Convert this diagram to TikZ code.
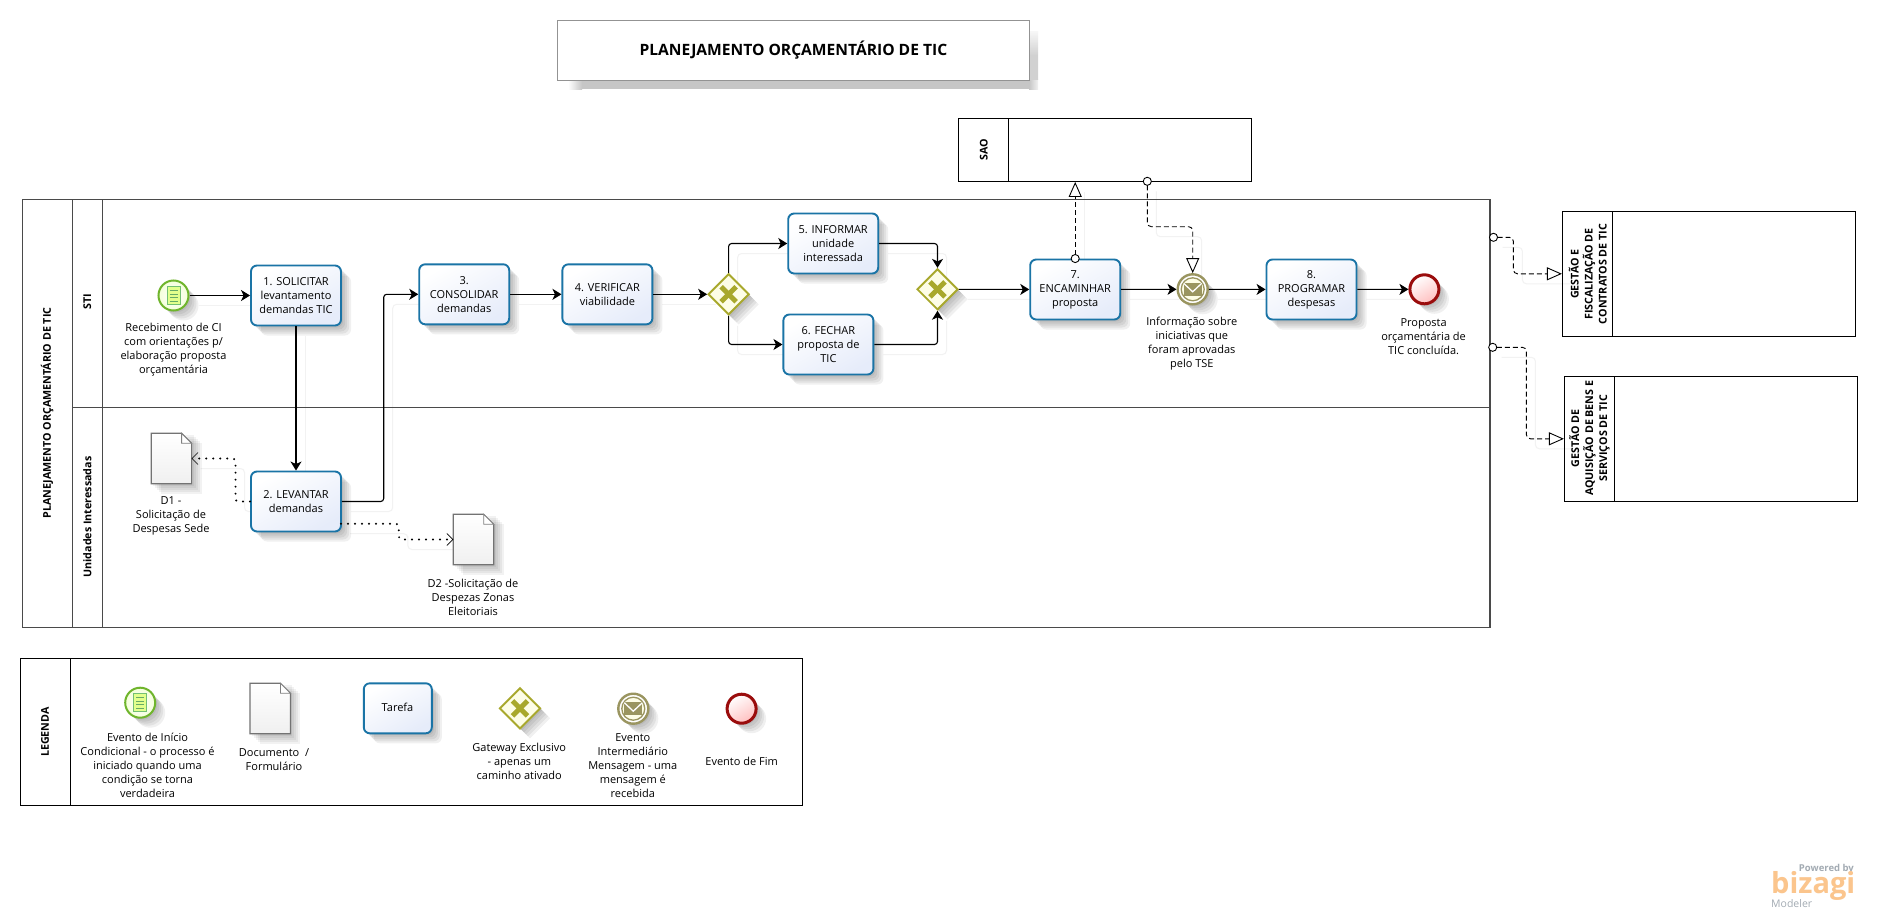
\documentclass[tikz,border=0pt]{standalone}
\usepackage{fontspec}
\setmainfont{Open Sans}
\usetikzlibrary{arrows.meta,shapes.geometric,calc}
\pgfdeclarelayer{ghost}
\pgfsetlayers{ghost,main}
\definecolor{taskblue}{HTML}{1A74A6}
\definecolor{taskfill}{HTML}{E6ECFA}
\definecolor{gwolive}{HTML}{A8A82C}
\definecolor{gwfill}{HTML}{FDFDE6}
\definecolor{msgolive}{HTML}{9A9560}
\definecolor{startgreen}{HTML}{6FB52C}
\definecolor{endred}{HTML}{9A0C0C}
\definecolor{poolgray}{HTML}{4A4A4A}
\definecolor{ghostgray}{HTML}{F2F2F2}
\definecolor{titleshadow}{HTML}{C6C6C6}
\definecolor{bizorange}{HTML}{FBC58D}
\definecolor{bizgray}{HTML}{A3ABB3}
\newcommand{\bodyfont}{\fontsize{11}{14}\selectfont}
\newcommand{\laneboldfont}{\fontsize{10.7}{14}\selectfont\bfseries}
\tikzset{
  softlayer/.style={preaction={draw=none,fill=black,fill opacity=.06,transform canvas={shift={(#1pt,-#1pt)}}}},
  softshadow/.style={softlayer=2,softlayer=4,softlayer=6,softlayer=8,softlayer=10},
  taskbox/.style={softshadow,rectangle,rounded corners=6pt,draw=taskblue,line width=1.9pt,
    top color=white,bottom color=taskfill,shading angle=30,minimum width=90pt,minimum height=60pt,
    inner sep=0pt,align=center,font=\bodyfont,text=black},
  gatewaynode/.style={softshadow,diamond,aspect=1,draw=gwolive,line width=1.9pt,fill=gwfill,minimum size=41pt,inner sep=0pt},
  gwcross/.style={draw=gwolive,line width=5pt},
  startnode/.style={softshadow,circle,draw=startgreen,line width=2pt,inner color=white,outer color=green!30!yellow!15,minimum size=30pt,inner sep=0pt},
  msgnode/.style={softshadow,circle,draw=msgolive,line width=2.4pt,fill=white,minimum size=30pt,inner sep=0pt},
  endnode/.style={softshadow,circle,draw=endred,line width=3pt,top color=white,bottom color=red!25,shading angle=30,minimum size=29pt,inner sep=0pt},
  poolbox/.style={rectangle,draw=black,line width=1.2pt,inner sep=0pt},
  mainpool/.style={rectangle,draw=poolgray,line width=1.2pt,inner sep=0pt},
  doclabel/.style={align=center,font=\bodyfont,inner sep=0pt,text=black},
  lanetext/.style={rotate=90,align=center,font=\laneboldfont,inner sep=0pt},
  invisdoc/.style={rectangle,minimum width=40pt,minimum height=50pt,inner sep=0pt},
  flowline/.style={draw=black,line width=1.1pt,rounded corners=3pt,-{Stealth[length=9pt,width=11pt,inset=2.5pt]}},
  assocline/.style={draw=black,line width=.9pt,rounded corners=4pt,dash pattern=on 5pt off 3pt,shorten <=-4.5pt,
    {Circle[open,fill=white,length=9pt,width=9pt]}-{Triangle[open,fill=white,length=15pt,width=13pt]}},
  dotline/.style={draw=black,line width=2.2pt,line cap=round,dash pattern=on 0pt off 7pt,rounded corners=3pt,
    -{Straight Barb[length=6pt,width=12pt,line width=.6pt]}},
  ghostline/.style={draw=ghostgray,line width=1pt,rounded corners=4pt,transform canvas={shift={(9pt,-10pt)}}},
}
% connector with its faint offset copy, on a layer under the nodes
\newcommand{\conn}[2]{%
  \begin{pgfonlayer}{ghost}\draw[ghostline] #2;\end{pgfonlayer}
  \draw[#1] #2;}
\newcommand{\gwx}[1]{%
  \draw[gwcross] ([shift={(-7.5,-7.5)}]#1.center) -- ([shift={(7.5,7.5)}]#1.center);
  \draw[gwcross] ([shift={(-7.5,7.5)}]#1.center) -- ([shift={(7.5,-7.5)}]#1.center);}
\newcommand{\msgicon}[1]{%
  \draw[msgolive,line width=1.3pt,fill=gwfill] (#1.center) circle (11.5pt);
  \fill[msgolive] ([shift={(-9,-6.5)}]#1.center) rectangle ([shift={(9,6.5)}]#1.center);
  \draw[white,line width=1.3pt] ([shift={(-9,-6)}]#1.center) -- ([shift={(0,2.5)}]#1.center) -- ([shift={(9,-6)}]#1.center);}
\newcommand{\starticon}[1]{%
  \draw[green!55!black!55,line width=1pt,fill=lime!45] ([shift={(-6.5,-9)}]#1.center) rectangle ([shift={(6.5,9)}]#1.center);
  \foreach \yy in {-5,-1.5,2,5.5}
    \draw[green!45!black!60,line width=1pt] ([shift={(-4,\yy)}]#1.center) -- ([shift={(4,\yy)}]#1.center);}
\newcommand{\docshape}[1]{%
  \foreach \ss in {2,4,6,8,10}
    \fill[black,fill opacity=.05,transform canvas={shift={(\ss pt,-\ss pt)}}] (#1.north west) rectangle (#1.south east);
  \draw[draw=gray!90!black,line width=1.2pt,top color=white,bottom color=gray!12]
    (#1.north west) -- ([xshift=-10pt]#1.north east) -- ([yshift=-10pt]#1.north east) -- (#1.south east) -- (#1.south west) -- cycle;
  \draw[gray,line width=.8pt,fill=white] ([xshift=-10pt]#1.north east) |- ([yshift=-10pt]#1.north east) -- cycle;}
\begin{document}
\begin{tikzpicture}[x=1pt,y=-1pt]
\useasboundingbox (0,0) rectangle (1877,918);
\begin{pgfonlayer}{ghost}
  \fill[white] (0,0) rectangle (1877,918);
\end{pgfonlayer}

% title
\shade[left color=white,right color=titleshadow] (568,79) rectangle (582,89);
\fill[titleshadow] (582,79) rectangle (1029,89);
\shade[left color=titleshadow,right color=black!5] (1029,79) rectangle (1038,89);
\shade[top color=black!3,bottom color=titleshadow!80!white,middle color=titleshadow!80!white] (1029,31) rectangle (1038,79);
\node[rectangle,draw=gray!85,line width=1.2pt,fill=white,minimum width=472pt,minimum height=60pt,inner sep=0pt,
      font=\fontsize{15.6}{18}\selectfont\bfseries] (title) at (793.4,50.3) {PLANEJAMENTO ORÇAMENTÁRIO DE TIC};

% main pool
\node[mainpool,minimum width=1467.6pt,minimum height=428pt] (pool) at (756.2,413.3) {};
\node[mainpool,minimum width=1417.8pt,minimum height=208pt] (lane1) at (781.1,303.3) {};
\node[mainpool,minimum width=1417.8pt,minimum height=220pt] (lane2) at (781.1,517.3) {};
\draw[poolgray,line width=1.2pt] (102.4,199.3) -- (102.4,627.3);
\node[lanetext] (pooltitle) at (47.3,413) {PLANEJAMENTO ORÇAMENTÁRIO DE TIC};
\node[lanetext] (stitext) at (87.3,302) {STI};
\node[lanetext] (unitext) at (87.3,517) {Unidades Interessadas};

% SAO pool
\node[poolbox,minimum width=293pt,minimum height=63pt] (sao) at (1104.9,149.8) {};
\draw[black,line width=1.2pt] (1008.6,118.3) -- (1008.6,181.3);
\node[lanetext] (saotext) at (983.7,150) {SAO};

% right pools
\node[poolbox,minimum width=293pt,minimum height=125pt] (gfc) at (1709,273.8) {};
\draw[black,line width=1.2pt] (1612.5,211.3) -- (1612.5,336.3);
\node[lanetext] (gfctext) at (1587.8,274) {GESTÃO E\\FISCALIZAÇÃO DE\\CONTRATOS DE TIC};
\node[poolbox,minimum width=293pt,minimum height=125pt] (gab) at (1711,438.8) {};
\draw[black,line width=1.2pt] (1614.2,376.3) -- (1614.2,501.3);
\node[lanetext] (gabtext) at (1589.4,438.3) {GESTÃO DE\\AQUISIÇÃO DE BENS E\\SERVIÇOS DE TIC};

% legend pool
\node[poolbox,minimum width=782pt,minimum height=147pt] (leg) at (411.4,731.8) {};
\draw[black,line width=1.2pt] (70.6,658.3) -- (70.6,805.3);
\node[lanetext] (legtext) at (45,732) {LEGENDA};

% process nodes
\node[startnode] (start) at (173.5,295.5) {};
\starticon{start}
\node[doclabel] (startlab) at (173.5,350) {Recebimento de CI\\com orientações p/\\elaboração proposta\\orçamentária};
\node[taskbox] (t1) at (296,295.5) {1. SOLICITAR\\levantamento\\demandas TIC};
\node[taskbox] (t2) at (296,501.5) {2. LEVANTAR\\demandas};
\node[taskbox] (t3) at (464.2,294.3) {3.\\CONSOLIDAR\\demandas};
\node[taskbox] (t4) at (607.4,294.3) {4. VERIFICAR\\viabilidade};
\node[gatewaynode] (gw1) at (728.6,294.3) {};
\gwx{gw1}
\node[taskbox] (t5) at (833.2,243.5) {5. INFORMAR\\unidade\\interessada};
\node[taskbox] (t6) at (828.4,344.5) {6. FECHAR\\proposta de\\TIC};
\node[gatewaynode] (gw2) at (937.5,289.3) {};
\gwx{gw2}
\node[taskbox] (t7) at (1075.2,289.5) {7.\\ENCAMINHAR\\proposta};
\node[msgnode] (msg) at (1192.7,289.3) {};
\msgicon{msg}
\node[doclabel] (msglab) at (1191.8,344) {Informação sobre\\iniciativas que\\foram aprovadas\\pelo TSE};
\node[taskbox] (t8) at (1311.5,289.5) {8.\\PROGRAMAR\\despesas};
\node[endnode] (endev) at (1424.4,289.3) {};
\node[doclabel] (endlab) at (1423.6,337) {Proposta\\orçamentária de\\TIC concluída.};

\node[invisdoc] (d1) at (171.4,458.5) {};
\docshape{d1}
\node[doclabel] (d1lab) at (171,516) {D1 -\\Solicitação de\\Despesas Sede};
\node[invisdoc] (d2) at (473.5,539.5) {};
\docshape{d2}
\node[doclabel] (d2lab) at (473,597) {D2 -Solicitação de\\Despezas Zonas\\Eleitoriais};

% legend items
\node[startnode] (lstart) at (140.2,702.7) {};
\starticon{lstart}
\node[doclabel] (lstartlab) at (147.5,765.3) {Evento de Início\\Condicional - o processo é\\iniciado quando uma\\condição se torna\\verdadeira};
\node[invisdoc] (ldoc) at (270.2,708.5) {};
\docshape{ldoc}
\node[doclabel] (ldoclab) at (274,759.3) {Documento\ \ /\\Formulário};
\node[taskbox,minimum width=68pt,minimum height=50pt] (ltask) at (397.8,708.3) {};
\node[doclabel] (ltasktext) at (397.5,707.3) {Tarefa};
\node[gatewaynode] (lgw) at (520,708.3) {};
\gwx{lgw}
\node[doclabel] (lgwlab) at (519.3,761.3) {Gateway Exclusivo\\- apenas um\\caminho ativado};
\node[msgnode] (lmsg) at (633.3,708.7) {};
\msgicon{lmsg}
\node[doclabel] (lmsglab) at (632.8,765.3) {Evento\\Intermediário\\Mensagem - uma\\mensagem é\\recebida};
\node[endnode] (lend) at (741.6,708.7) {};
\node[doclabel] (lendlab) at (741.6,761.3) {Evento de Fim};

% helper coordinates
\coordinate (b23) at (383.7,400);
\coordinate (bd1) at (235.5,480);
\coordinate (t2d) at (341,523.7);
\coordinate (bd2) at (398.8,530);
\coordinate (saoout) at (1147.3,181.3);
\coordinate (bsao) at (1170,226.7);
\coordinate (pa) at (1493.5,237.3);
\coordinate (bpa) at (1513.4,255);
\coordinate (pb) at (1492.7,347.3);
\coordinate (bpb) at (1526.4,400);

% sequence flows
\conn{flowline}{(start) -- (t1)}
\conn{flowline}{(t1) -- (t2)}
\conn{flowline}{(t2.east) -| (b23) |- (t3.west)}
\conn{flowline}{(t3) -- (t4)}
\conn{flowline}{(t4) -- (gw1)}
\conn{flowline}{(gw1.north) |- (t5.west)}
\conn{flowline}{(gw1.south) |- (t6.west)}
\conn{flowline}{(t5.east) -| (gw2.north)}
\conn{flowline}{(t6.east) -| (gw2.south)}
\conn{flowline}{(gw2) -- (t7)}
\conn{flowline}{(t7) -- (msg)}
\conn{flowline}{(msg) -- (t8)}
\conn{flowline}{(t8) -- (endev)}

% associations
\conn{dotline}{(t2.west) -| (bd1) |- (d1.east)}
\conn{dotline}{(t2d) -| (bd2) |- (d2.west)}

% message flows
\conn{assocline}{(t7.north) -- (t7.north |- sao.south)}
\conn{assocline}{(saoout) |- (bsao) -| (msg.north)}
\conn{assocline}{(pa) -| (bpa) |- (gfc.west)}
\conn{assocline}{(pb) -| (bpb) |- (gab.west)}

% logo
\node[anchor=base east,inner sep=0pt,text=bizgray,font=\fontsize{9.5}{11}\selectfont\bfseries] (bizpow) at (1854,871) {Powered by};
\node[anchor=base west,inner sep=0pt,text=bizorange,font=\fontsize{29}{30}\selectfont\bfseries] (bizlogo) at (1771,893) {bizagi};
\node[anchor=base west,inner sep=0pt,text=bizgray,font=\fontsize{10.5}{12}\selectfont] (bizmod) at (1771,907) {Modeler};
\end{tikzpicture}
\end{document}
